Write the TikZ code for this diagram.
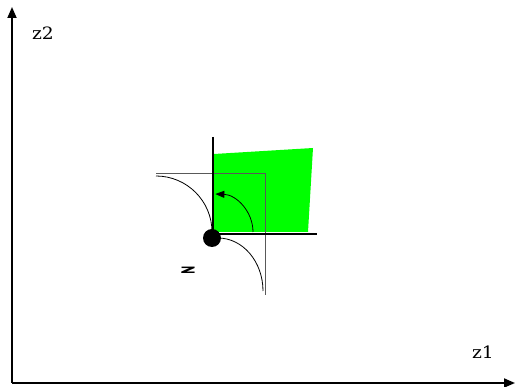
\documentclass[tikz,border=0pt]{standalone}
\usepackage{fontspec}
\setmainfont{DejaVu Serif}
\setsansfont{DejaVu Sans}
\usetikzlibrary{arrows.meta}
\begin{document}
\begin{tikzpicture}[x=1pt,y=-1pt,
  axis/.style={line width=1.8pt,-{Triangle[length=11pt,width=9pt]}},
  thickline/.style={line width=2.2pt},
  thinline/.style={line width=0.8pt,black!65},
  arcline/.style={line width=0.8pt,black},
  lbl/.style={font=\fontsize{17}{17}\selectfont,inner sep=0pt}]
\useasboundingbox (0,0) rectangle (515,387);
\coordinate (O) at (12,383);
\coordinate (Ytop) at (12,7);
\coordinate (Xend) at (515,383);
\draw[axis] (O) -- (Ytop);
\draw[axis] (O) -- (Xend);
\node[lbl] (z2) at (43,33) {\scalebox{1.1}[1]{z2}};
\node[lbl] (z1) at (483,352) {\scalebox{1.1}[1]{z1}};
% green region
\fill[green] (214,154) -- (313,148) -- (308,232) -- (214,232) -- cycle;
% thin gray box
\coordinate (g1) at (156,173);
\coordinate (g2) at (265,173);
\coordinate (g3) at (265,295);
\draw[thinline] (g1) -- (g2) -- (g3);
% arcs
\draw[arcline] (156,176) arc[start angle=90,end angle=0,x radius=56,y radius=-56];
\draw[arcline] (218,238) arc[start angle=90,end angle=0,x radius=45,y radius=-53];
% arrow arc
\draw[arcline,-{Triangle[length=9pt,width=7pt]}] (253,232) arc[start angle=0,end angle=88,x radius=39,y radius=-38];
% thick axes of the cone
\coordinate (v0) at (213,137);
\coordinate (h1) at (317,234);
\node[circle,fill=black,minimum size=18pt,inner sep=0pt] (z) at (212,238) {};
\draw[thickline] (v0) -- (213,234) -- (h1);
\node[inner sep=0pt,font=\sffamily\bfseries\fontsize{13}{13}\selectfont] (zl) at (188,270) {\scalebox{2.1}[0.9]{z}};
\end{tikzpicture}
\end{document}
